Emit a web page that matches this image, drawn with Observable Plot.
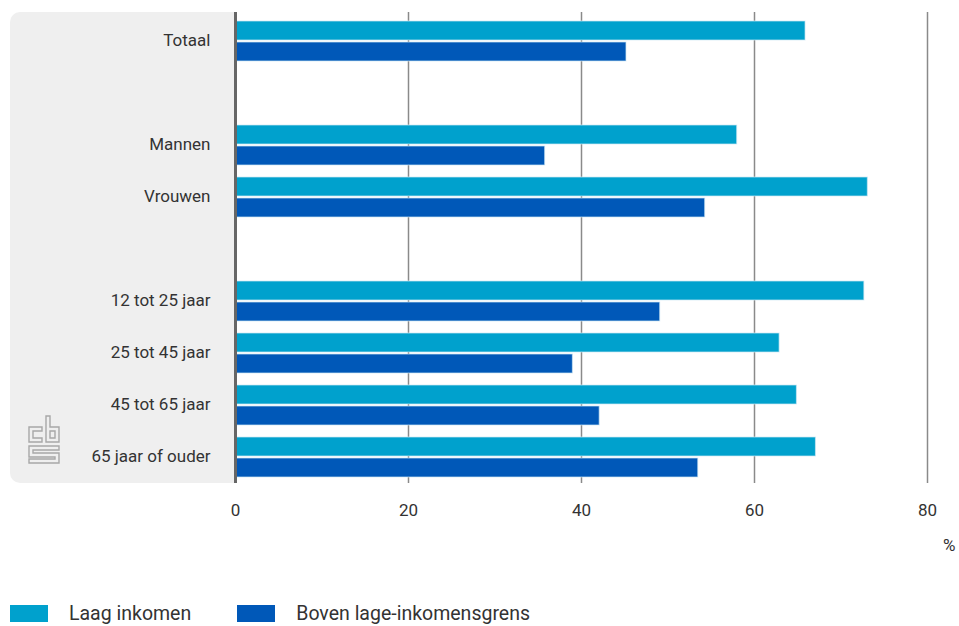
<!DOCTYPE html>
<html>
<head>
<meta charset="utf-8">
<script src="https://cdn.jsdelivr.net/npm/d3@7"></script>
<script src="https://cdn.jsdelivr.net/npm/@observablehq/plot@0.6"></script>
<style>
  html, body { margin: 0; padding: 0; background: #fff; }
  body { width: 959px; height: 626px; position: relative; overflow: hidden; font-family: Roboto, "Noto Sans", sans-serif; color: #333; }
  #panel { position: absolute; left: 10px; top: 12px; width: 225px; height: 471px; background: #efefef; border-radius: 10px 0 0 10px; }
  #logo { position: absolute; left: 26px; top: 413px; }
  #chart { position: absolute; left: 0; top: 0; }
  #pct { position: absolute; left: 943px; top: 535px; font-size: 17px; color: #333; }
  #legend { position: absolute; left: 10px; top: 602px; display: flex; align-items: center; font-size: 19.5px; color: #333; }
  .sw { width: 38px; height: 17px; display: inline-block; margin-right: 21px; }
  .item { display: flex; align-items: center; }
</style>
</head>
<body>
<div id="panel"></div>
<svg id="logo" width="40" height="52" viewBox="0 0 40 52" fill="none" stroke="#a8a8a8" stroke-width="1.4">
  <path d="M3 14 H16 V18 H7 V25 H16 V29 H3 Z"/>
  <path d="M20 3 H24 V14 H33 V29 H20 Z M24 18 V25 H29 V18 Z"/>
  <path d="M3 33 H33 V37 H7 V40 H33 V50 H3 V46 H29 V44 H3 Z"/>
</svg>
<div id="chart"></div>
<div id="pct">%</div>
<div id="legend"></div>
<script>
const categories = ["Totaal", " ", "Mannen", "Vrouwen", "  ", "12 tot 25 jaar", "25 tot 45 jaar", "45 tot 65 jaar", "65 jaar of ouder"];
const series = ["Laag inkomen", "Boven lage-inkomensgrens"];
const dataCategories = ["Totaal", "Mannen", "Vrouwen", "12 tot 25 jaar", "25 tot 45 jaar", "45 tot 65 jaar", "65 jaar of ouder"];
const laagInkomen = [65.9, 58.0, 73.1, 72.7, 62.9, 64.9, 67.1];
const bovenGrens = [45.2, 35.8, 54.3, 49.1, 39.0, 42.1, 53.5];
const xTicks = [0, 20, 40, 60, 80];
const colors = ["#00a1cd", "#0058b8"];

const laagData = dataCategories.map((c, i) => ({category: c, series: series[0], value: laagInkomen[i]}));
const bovenData = dataCategories.map((c, i) => ({category: c, series: series[1], value: bovenGrens[i]}));

const chart = Plot.plot({
  width: 959,
  height: 560,
  marginTop: 12,
  marginBottom: 77,
  marginLeft: 235,
  marginRight: 32,
  style: {fontFamily: "Roboto, 'Noto Sans', sans-serif", fontSize: "17px", color: "#333", background: "transparent"},
  x: {domain: [0, 80], ticks: xTicks, tickSize: 0, tickPadding: 20, label: null},
  y: {domain: categories, padding: 0, tickSize: 0, tickPadding: 25, label: null},
  color: {domain: series, range: colors},
  marks: [
    Plot.ruleX(xTicks.filter(d => d > 0), {stroke: "#8a8a8a", strokeWidth: 1.5}),
    Plot.barX(laagData, {x: "value", y: "category", fill: "series", insetTop: 7, insetBottom: 26, stroke: "#cfe8f3", strokeWidth: 1, strokeOpacity: 0.7}),
    Plot.barX(bovenData, {x: "value", y: "category", fill: "series", insetTop: 28, insetBottom: 5, stroke: "#cfe8f3", strokeWidth: 1, strokeOpacity: 0.7}),
    Plot.ruleX([0], {stroke: "#666", strokeWidth: 3})
  ]
});
document.getElementById("chart").appendChild(chart);

const legend = document.getElementById("legend");
series.forEach((s, i) => {
  const item = document.createElement("div");
  item.className = "item";
  item.style.marginRight = i === 0 ? "46px" : "0";
  const sw = document.createElement("span");
  sw.className = "sw";
  sw.style.background = colors[i];
  const lab = document.createElement("span");
  lab.textContent = s;
  item.appendChild(sw);
  item.appendChild(lab);
  legend.appendChild(item);
});
</script>
</body>
</html>
